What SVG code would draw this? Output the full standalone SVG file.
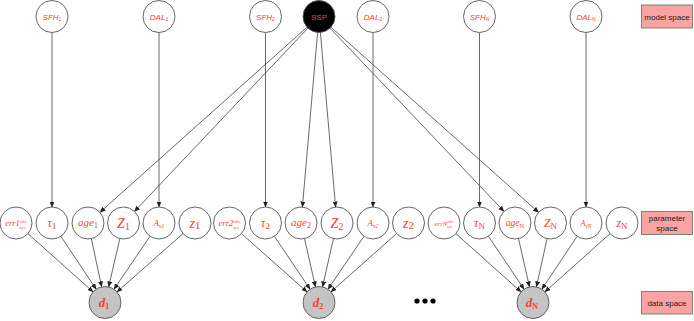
<svg xmlns="http://www.w3.org/2000/svg" width="694" height="321" viewBox="0 0 694 321">
<style>
.n{fill:#fff;stroke:#555;stroke-width:0.9}
.d{fill:#c4c4c4;stroke:#555;stroke-width:0.9}
.s{fill:#000;stroke:#555;stroke-width:0.9}
.t{font-family:"Liberation Sans",Arial,sans-serif;font-style:italic;font-size:8px;fill:#ff3b30;text-anchor:middle}
.m{font-family:"Liberation Serif","Times New Roman",serif;font-style:italic;fill:#ff3b30;text-anchor:middle}
.dl{font-family:"Liberation Serif","Times New Roman",serif;font-style:italic;font-weight:bold;font-size:13px;fill:#ff3b30;text-anchor:middle}
.up{font-style:normal}
.box{fill:#f9a3a3;stroke:#777;stroke-width:0.9}
.bt{font-family:"Liberation Sans",Arial,sans-serif;font-size:8px;fill:#222;text-anchor:middle}
#edges line{stroke:#444;stroke-width:0.8;marker-end:url(#ah)}
</style>
<defs>
<marker id="ah" markerWidth="6" markerHeight="5" refX="5.5" refY="2.5" orient="auto" markerUnits="userSpaceOnUse">
<path d="M0,0 L6,2.5 L0,5 Z" fill="#222"/>
</marker>
</defs>
<g id="edges">
<line x1="52" y1="32.5" x2="52" y2="207"/>
<line x1="159" y1="32.5" x2="159" y2="207"/>
<line x1="265.5" y1="32.5" x2="265.5" y2="207"/>
<line x1="373" y1="32.5" x2="373" y2="207"/>
<line x1="479.5" y1="32.5" x2="479.5" y2="207"/>
<line x1="586" y1="32.5" x2="586" y2="207"/>
<line x1="307.07" y1="27.16" x2="99.93" y2="212.34"/>
<line x1="308.0" y1="28.1" x2="134.5" y2="211.38"/>
<line x1="317.61" y1="32.44" x2="302.39" y2="207.06"/>
<line x1="320.39" y1="32.44" x2="335.61" y2="207.06"/>
<line x1="330.0" y1="28.1" x2="503.99" y2="211.4"/>
<line x1="330.94" y1="27.15" x2="538.56" y2="212.35"/>
<line x1="27.94" y1="233.66" x2="93.06" y2="291.84"/>
<line x1="60.88" y1="236.31" x2="96.12" y2="289.19"/>
<line x1="91.35" y1="238.65" x2="101.65" y2="286.85"/>
<line x1="119.87" y1="238.58" x2="108.63" y2="286.92"/>
<line x1="150.01" y1="236.24" x2="113.99" y2="289.26"/>
<line x1="183.01" y1="233.59" x2="116.99" y2="291.91"/>
<line x1="241.46" y1="233.63" x2="307.04" y2="291.87"/>
<line x1="274.43" y1="236.28" x2="310.07" y2="289.22"/>
<line x1="304.53" y1="238.6" x2="315.47" y2="286.9"/>
<line x1="333.47" y1="238.6" x2="322.53" y2="286.9"/>
<line x1="364.01" y1="236.24" x2="327.99" y2="289.26"/>
<line x1="396.54" y1="233.63" x2="330.96" y2="291.87"/>
<line x1="455.94" y1="233.66" x2="521.06" y2="291.84"/>
<line x1="488.43" y1="236.28" x2="524.07" y2="289.22"/>
<line x1="518.53" y1="238.6" x2="529.47" y2="286.9"/>
<line x1="547.06" y1="238.63" x2="536.44" y2="286.87"/>
<line x1="577.12" y1="236.31" x2="541.88" y2="289.19"/>
<line x1="610.06" y1="233.66" x2="544.94" y2="291.84"/>
</g>
<g id="sfh1"><circle class="n" cx="52" cy="16.5" r="16"/><text class="t" x="52" y="19.5">SFH<tspan font-size="5" dy="1.5">1</tspan></text></g>
<g id="dal1"><circle class="n" cx="159" cy="16.5" r="16"/><text class="t" x="159" y="19.5">DAL<tspan font-size="5" dy="1.5">1</tspan></text></g>
<g id="sfh2"><circle class="n" cx="265.5" cy="16.5" r="16"/><text class="t" x="265.5" y="19.5">SFH<tspan font-size="5" dy="1.5">2</tspan></text></g>
<g id="ssp"><circle class="s" cx="319" cy="16.5" r="16"/><text class="t up" x="319" y="19.5">SSP</text></g>
<g id="dal2"><circle class="n" cx="373" cy="16.5" r="16"/><text class="t" x="373" y="19.5">DAL<tspan font-size="5" dy="1.5">2</tspan></text></g>
<g id="sfhN"><circle class="n" cx="479.5" cy="16.5" r="16"/><text class="t" x="479.5" y="19.5">SFH<tspan font-size="5" dy="1.5">N</tspan></text></g>
<g id="dalN"><circle class="n" cx="586" cy="16.5" r="16"/><text class="t" x="586" y="19.5">DAL<tspan font-size="5" dy="1.5">N</tspan></text></g>
<g id="err1"><circle class="n" cx="16" cy="223" r="16"/><text class="m" x="16" y="226" font-size="8.5">err1<tspan font-size="5" dy="-3.5">obs</tspan><tspan font-size="5" dx="-7.5" dy="6">sys</tspan></text></g>
<g id="tau1"><circle class="n" cx="52" cy="223" r="16"/><text class="m" x="52" y="227" font-size="12">τ<tspan class="up" font-size="9" dy="2">1</tspan></text></g>
<g id="age1"><circle class="n" cx="88" cy="223" r="16"/><text class="m" x="88" y="226" font-size="11">age<tspan class="up" font-size="8" dy="2">1</tspan></text></g>
<g id="Z1"><circle class="n" cx="123.5" cy="223" r="16"/><text class="m" x="123.5" y="228" font-size="14">Z<tspan class="up" font-size="10" dy="2">1</tspan></text></g>
<g id="Av1"><circle class="n" cx="159" cy="223" r="16"/><text class="m" x="159" y="226" font-size="9">A<tspan font-size="6" dy="2">v1</tspan></text></g>
<g id="z1"><circle class="n" cx="195" cy="223" r="16"/><text class="m" x="195" y="228" font-size="14">z<tspan class="up" font-size="11" dy="1">1</tspan></text></g>
<g id="err2"><circle class="n" cx="229.5" cy="223" r="16"/><text class="m" x="229.5" y="226" font-size="8.5">err2<tspan font-size="5" dy="-3.5">obs</tspan><tspan font-size="5" dx="-7.5" dy="6">sys</tspan></text></g>
<g id="tau2"><circle class="n" cx="265.5" cy="223" r="16"/><text class="m" x="265.5" y="227" font-size="12">τ<tspan class="up" font-size="9" dy="2">2</tspan></text></g>
<g id="age2"><circle class="n" cx="301" cy="223" r="16"/><text class="m" x="301" y="226" font-size="11">age<tspan class="up" font-size="8" dy="2">2</tspan></text></g>
<g id="Z2"><circle class="n" cx="337" cy="223" r="16"/><text class="m" x="337" y="228" font-size="14">Z<tspan class="up" font-size="10" dy="2">2</tspan></text></g>
<g id="Av2"><circle class="n" cx="373" cy="223" r="16"/><text class="m" x="373" y="226" font-size="9">A<tspan font-size="6" dy="2">v2</tspan></text></g>
<g id="z2"><circle class="n" cx="408.5" cy="223" r="16"/><text class="m" x="408.5" y="228" font-size="14">z<tspan class="up" font-size="11" dy="1">2</tspan></text></g>
<g id="errN"><circle class="n" cx="444" cy="223" r="16"/><text class="m" x="444" y="226" font-size="6.5">errN<tspan font-size="4.5" dy="-3">obs</tspan><tspan font-size="4.5" dx="-6.5" dy="5">sys</tspan></text></g>
<g id="tauN"><circle class="n" cx="479.5" cy="223" r="16"/><text class="m" x="479.5" y="227" font-size="12">τ<tspan class="up" font-size="9" dy="2">N</tspan></text></g>
<g id="ageN"><circle class="n" cx="515" cy="223" r="16"/><text class="m" x="515" y="226" font-size="9.5">age<tspan class="up" font-size="6.5" dy="1.5">N</tspan></text></g>
<g id="ZN"><circle class="n" cx="550.5" cy="223" r="16"/><text class="m" x="550.5" y="227" font-size="12">Z<tspan class="up" font-size="9" dy="2">N</tspan></text></g>
<g id="AvN"><circle class="n" cx="586" cy="223" r="16"/><text class="m" x="586" y="226" font-size="8">A<tspan font-size="5.5" dy="2">vN</tspan></text></g>
<g id="zN"><circle class="n" cx="622" cy="223" r="16"/><text class="m" x="622" y="227" font-size="12">z<tspan class="up" font-size="9" dy="1.5">N</tspan></text></g>
<g id="d1"><circle class="d" cx="105" cy="302.5" r="16"/><text class="dl" x="104" y="306.5">d<tspan class="up" font-size="8" dy="2">1</tspan></text></g>
<g id="d2"><circle class="d" cx="319" cy="302.5" r="16"/><text class="dl" x="318" y="306.5">d<tspan class="up" font-size="8" dy="2">2</tspan></text></g>
<g id="dN"><circle class="d" cx="533" cy="302.5" r="16"/><text class="dl" x="532" y="306.5">d<tspan class="up" font-size="8" dy="2">N</tspan></text></g>
<g id="dots" fill="#000"><circle cx="417" cy="301" r="2.6"/><circle cx="425" cy="301" r="2.6"/><circle cx="433" cy="301" r="2.6"/></g>
<g id="model-space"><rect class="box" x="641.5" y="5" width="51" height="23"/><text class="bt" x="667" y="19.5">model space</text></g>
<g id="parameter-space"><rect class="box" x="641.5" y="211.5" width="51" height="23"/><text class="bt" x="667" y="221">parameter</text><text class="bt" x="667" y="231">space</text></g>
<g id="data-space"><rect class="box" x="641.5" y="291.5" width="51" height="22.5"/><text class="bt" x="667" y="305.5">data space</text></g>
</svg>
